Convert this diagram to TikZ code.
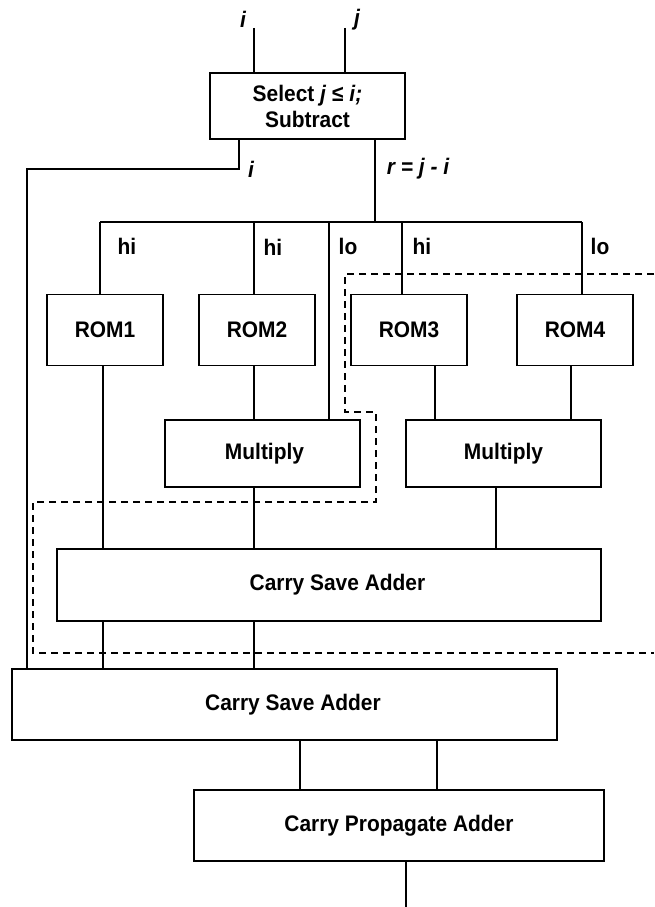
\documentclass[tikz,border=0pt]{standalone}
\usepackage{fontspec}
\setmainfont{Liberation Sans}[FakeStretch=0.93]
\usetikzlibrary{calc}

\tikzset{
  block/.style={draw, line width=1.8pt, inner sep=0pt, outer sep=0pt, align=center,
    font=\bfseries\fontsize{22.5}{26}\selectfont},
  wire/.style={line width=1.3pt},
  part/.style={line width=1.5pt, dash pattern=on 7pt off 5pt},
  tag/.style={inner sep=0pt, font=\bfseries\fontsize{22.5}{26}\selectfont},
  mtag/.style={inner sep=0pt, font=\bfseries\itshape\fontsize{22.5}{26}\selectfont}
}

\begin{document}
\begin{tikzpicture}[x=1pt, y=-1pt]
    \useasboundingbox (0,0) rectangle (654,907);

    % Select / subtract stage
    \node[block, minimum width=195pt, minimum height=66pt] (sel) at (307.5,106)
        {Select \textit{j} ≤ \textit{i;}\\Subtract};

    % Table look-up ROMs
    \node[block, minimum width=116pt, minimum height=71pt] (rom1) at (105,330) {ROM1};
    \node[block, minimum width=116pt, minimum height=71pt] (rom2) at (257,330) {ROM2};
    \node[block, minimum width=116pt, minimum height=71pt] (rom3) at (409,330) {ROM3};
    \node[block, minimum width=116pt, minimum height=71pt] (rom4) at (575,330) {ROM4};

    % Multipliers
    \node[block, minimum width=195pt, minimum height=67pt] (mul1) at (262.5,453.5) {\hspace*{4pt}Multiply};
    \node[block, minimum width=195pt, minimum height=67pt] (mul2) at (503.5,453.5) {Multiply};

    % Adders
    \node[block, minimum width=544pt, minimum height=72pt] (csa1) at (329,585) {\hspace*{17pt}Carry Save Adder};
    \node[block, minimum width=545pt, minimum height=71pt] (csa2) at (284.5,704.5) {\hspace*{17pt}Carry Save Adder};
    \node[block, minimum width=410pt, minimum height=71pt] (cpa) at (399,825.5) {Carry Propagate Adder};

    % Inputs i and j
    \coordinate (iin) at (254,28);
    \coordinate (jin) at (345,28);
    \draw[wire] (iin) -- (iin |- sel.north);
    \draw[wire] (jin) -- (jin |- sel.north);
    \node[mtag] (ilab) at (243,19) {i};
    \node[mtag] (jlab) at (357,20) {j};

    % i goes down the left side
    \coordinate (iout) at (239,169);
    \coordinate (iside) at (27,169);
    \draw[wire] (iout |- sel.south) -- (iout) -- (iside) -- (iside |- csa2.north);
    \node[mtag] (ilab2) at (251,169) {i};

    % r = j - i onto the bus
    \coordinate (rtap) at (375,222);
    \draw[wire] (rtap |- sel.south) -- (rtap);
    \node[mtag] (rlab) at (418,169) {r = j - i};

    % Bus and its taps
    \coordinate (t1) at (100,222);
    \coordinate (t2) at (254,222);
    \coordinate (t3) at (329,222);
    \coordinate (t4) at (402,222);
    \coordinate (t5) at (582,222);
    \draw[wire] (t1) -- (t5);
    \draw[wire] (t1) -- (t1 |- rom1.north);
    \draw[wire] (t2) -- (t2 |- rom2.north);
    \draw[wire] (t3) -- (t3 |- mul1.north);
    \draw[wire] (t4) -- (t4 |- rom3.north);
    \draw[wire] (t5) -- (t5 |- rom4.north);
    \node[tag] (hi1) at (127,246) {hi};
    \node[tag] (hi2) at (273,247) {hi};
    \node[tag] (lo1) at (348,246) {lo};
    \node[tag] (hi3) at (422,246) {hi};
    \node[tag] (lo2) at (600,246) {lo};

    % Columns between the blocks
    \coordinate (x1) at (103,0);
    \coordinate (x2) at (254,0);
    \coordinate (x3) at (435,0);
    \coordinate (x4) at (571,0);
    \coordinate (x5) at (496,0);
    \coordinate (x6) at (300,0);
    \coordinate (x7) at (437,0);
    \coordinate (out) at (406,907);

    \draw[wire] (rom1.south -| x1) -- (csa1.north -| x1);
    \draw[wire] (rom2.south -| x2) -- (mul1.north -| x2);
    \draw[wire] (rom3.south -| x3) -- (mul2.north -| x3);
    \draw[wire] (rom4.south -| x4) -- (mul2.north -| x4);
    \draw[wire] (mul1.south -| x2) -- (csa1.north -| x2);
    \draw[wire] (mul2.south -| x5) -- (csa1.north -| x5);
    \draw[wire] (csa1.south -| x1) -- (csa2.north -| x1);
    \draw[wire] (csa1.south -| x2) -- (csa2.north -| x2);
    \draw[wire] (csa2.south -| x6) -- (cpa.north -| x6);
    \draw[wire] (csa2.south -| x7) -- (cpa.north -| x7);
    \draw[wire] (cpa.south -| out) -- (out);

    % Dashed partition
    \draw[part] (654,274) -- (345,274) -- (345,412) -- (376,412) -- (376,502)
        -- (33,502) -- (33,653) -- (654,653);
\end{tikzpicture}
\end{document}
